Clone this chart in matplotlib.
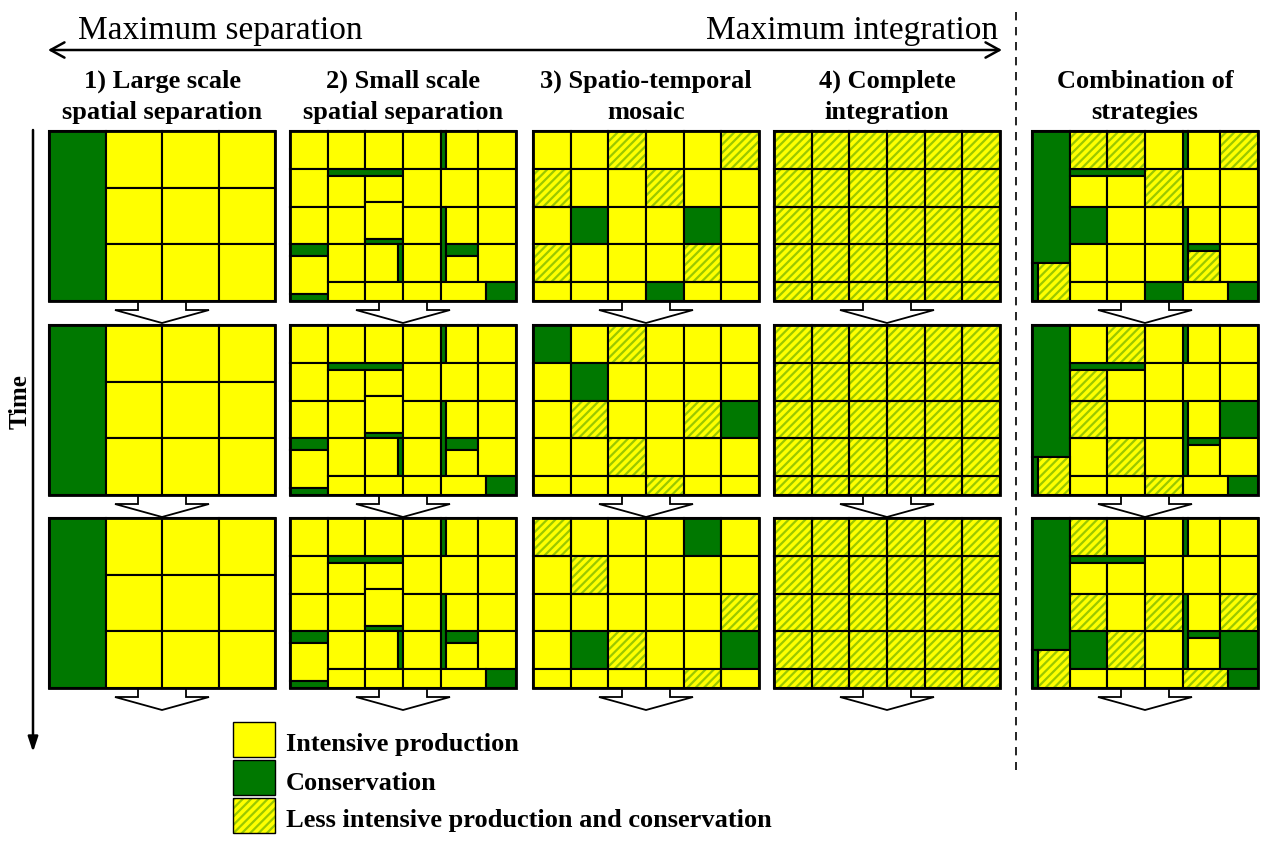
import matplotlib
matplotlib.use('Agg')
import matplotlib.pyplot as plt
from matplotlib.patches import Rectangle, Polygon

# ---------------- data ----------------
# Y = intensive production, G = conservation, H = less intensive production and conservation
column_titles = ["1) Large scale\nspatial separation",
                 "2) Small scale\nspatial separation",
                 "3) Spatio-temporal\nmosaic",
                 "4) Complete\nintegration",
                 "Combination of\nstrategies"]
axis_left_label = "Maximum separation"
axis_right_label = "Maximum integration"
time_label = "Time"
legend_labels = ["Intensive production", "Conservation",
                 "Less intensive production and conservation"]
legend_kinds = ["Y", "G", "H"]

# Strategy 1: one conservation block + 3x3 production fields (same at every time step)
s1_blocks = [(0, 0, 1.5, 4.5, "G")] + [(1.5 + 1.5 * i, 1.5 * j, 1.5, 1.5, "Y")
                                       for i in range(3) for j in range(3)]

# Strategy 2: small-scale map (same at every time step)
s2_blocks = [
    (0, 0, 1, 1, "Y"), (0, 1, 1, 1, "Y"), (0, 2, 1, 1, "Y"),
    (0, 3, 1, 0.3, "G"), (0, 3.3, 1, 1.02, "Y"), (0, 4.32, 1, 0.18, "G"),
    (1, 0, 1, 1, "Y"), (1, 1, 2, 0.19, "G"), (1, 1.19, 1, 0.81, "Y"),
    (1, 2, 1, 1, "Y"), (1, 3, 1, 1, "Y"), (1, 4, 1, 0.5, "Y"),
    (2, 0, 1, 1, "Y"), (2, 1.19, 1, 0.68, "Y"), (2, 1.87, 1, 1.0, "Y"),
    (2, 2.87, 1, 0.13, "G"), (2, 3, 0.87, 1, "Y"), (2.87, 3, 0.13, 1, "G"),
    (2, 4, 1, 0.5, "Y"),
    (3, 0, 1, 1, "Y"), (3, 1, 1, 1, "Y"), (3, 2, 1, 1, "Y"), (3, 3, 1, 1, "Y"),
    (3, 4, 1, 0.5, "Y"),
    (4, 0, 0.15, 1, "G"), (4.15, 0, 0.85, 1, "Y"), (4, 1, 1, 1, "Y"),
    (4, 2, 0.15, 2, "G"), (4.15, 2, 0.85, 1, "Y"), (4.15, 3, 0.85, 0.3, "G"),
    (4.15, 3.3, 0.85, 0.7, "Y"),
    (5, 0, 1, 1, "Y"), (5, 1, 1, 1, "Y"), (5, 2, 1, 1, "Y"), (5, 3, 1, 1, "Y"),
    (4, 4, 1.2, 0.5, "Y"), (5.2, 4, 0.8, 0.5, "G"),
]

# Strategy 3: spatio-temporal mosaic, 4 full rows + half row, per time step
s3_states = [
    ["YYHYYH", "HYYHYY", "YGYYGY", "HYYYHY", "YYYGYY"],
    ["GYHYYY", "YGYYYY", "YHYYHG", "YYHYYY", "YYYHYY"],
    ["HYYYGY", "YHYYYY", "YYYYYH", "YGHYYG", "YYYYHY"],
]

# Strategy 4: complete integration
s4_states = [["HHHHHH"] * 5] * 3

# Combination: fixed conservation features + variable fields
s5_fixed = [(0, 0, 1, 3.5, "G"), (0, 3.5, 0.15, 1, "G"), (1, 1, 2, 0.19, "G"),
            (4, 0, 0.15, 1, "G"), (4, 2, 0.15, 2, "G"), (4.15, 3, 0.85, 0.18, "G")]
s5_slots = [
    (1, 0, 1, 1), (2, 0, 1, 1), (3, 0, 1, 1), (4.15, 0, 0.85, 1), (5, 0, 1, 1),
    (1, 1.19, 1, 0.81), (2, 1.19, 1, 0.81), (3, 1, 1, 1), (4, 1, 1, 1), (5, 1, 1, 1),
    (1, 2, 1, 1), (2, 2, 1, 1), (3, 2, 1, 1), (4.15, 2, 0.85, 1), (5, 2, 1, 1),
    (1, 3, 1, 1), (2, 3, 1, 1), (3, 3, 1, 1), (4.15, 3.18, 0.85, 0.82), (5, 3, 1, 1),
    (1, 4, 1, 0.5), (2, 4, 1, 0.5), (3, 4, 1, 0.5), (4, 4, 1.2, 0.5), (5.2, 4, 0.8, 0.5),
    (0.15, 3.5, 0.85, 1),
]
s5_states = [
    "HHYYH" + "YYHYY" + "GYYYY" + "YYYHY" + "YYGYG" + "H",
    "YHYYY" + "HYYYY" + "HYYYG" + "YHYYY" + "YYHYG" + "H",
    "HYYYY" + "YYYYY" + "HYHYH" + "GHYYG" + "YYYHG" + "H",
]

# ---------------- style ----------------
YELLOW = '#FFFF00'
GREEN = '#007800'
STRIPE = '#9BC800'
SERIF = ['Liberation Serif', 'DejaVu Serif']
plt.rcParams['hatch.linewidth'] = 1.6

panel_x = [49, 290, 533, 774, 1032]
panel_y = [131, 325, 518]
PW, PH = 226, 170

fig = plt.figure(figsize=(12.61, 8.41), dpi=100)
ax = fig.add_axes([0, 0, 1, 1])
ax.set_xlim(0, 1261)
ax.set_ylim(841, 0)
ax.axis('off')


def draw_box(x, y, w, h, kind, lw=1.5):
    if kind == "H":
        ax.add_patch(Rectangle((x, y), w, h, facecolor=YELLOW, edgecolor=STRIPE,
                               hatch='////', lw=0, zorder=2))
        ax.add_patch(Rectangle((x, y), w, h, fill=False, edgecolor='black',
                               lw=lw, zorder=3))
    else:
        ax.add_patch(Rectangle((x, y), w, h, facecolor=YELLOW if kind == "Y" else GREEN,
                               edgecolor='black', lw=lw, zorder=2))


def draw_panel(x0, y0, blocks):
    cw, ch = PW / 6.0, PH / 4.5
    for (gx, gy, gw, gh, kind) in blocks:
        draw_box(x0 + gx * cw, y0 + gy * ch, gw * cw, gh * ch, kind)
    ax.add_patch(Rectangle((x0, y0), PW, PH, fill=False, edgecolor='black', lw=2, zorder=4))


def grid_blocks(rows):
    out = []
    for r, row in enumerate(rows):
        h = 1 if r < 4 else 0.5
        for c, k in enumerate(row):
            out.append((c, r, 1, h, k))
    return out


def draw_down_arrow(cx, ytop):
    sw, sh, hw, hh = 24, 9, 47, 13
    pts = [(cx - sw, ytop), (cx + sw, ytop), (cx + sw, ytop + sh), (cx + hw, ytop + sh),
           (cx, ytop + sh + hh), (cx - hw, ytop + sh), (cx - sw, ytop + sh)]
    ax.add_patch(Polygon(pts, closed=True, facecolor='white', edgecolor='black',
                         lw=1.3, zorder=1))


for t in range(3):
    y0 = panel_y[t]
    panels = [s1_blocks, s2_blocks, grid_blocks(s3_states[t]), grid_blocks(s4_states[t]),
              s5_fixed + [s + (k,) for s, k in zip(s5_slots, s5_states[t])]]
    for i, blocks in enumerate(panels):
        draw_panel(panel_x[i], y0, blocks)
        draw_down_arrow(panel_x[i] + PW / 2, y0 + PH)

# column titles
for i, title in enumerate(column_titles):
    ax.text(panel_x[i] + PW / 2, 97, title, ha='center', va='center', fontsize=19,
            fontweight='bold', family=SERIF, linespacing=1.42)

# top axis
ax.annotate('', xy=(48, 50), xytext=(1002, 50),
            arrowprops=dict(arrowstyle='<->,head_length=1.0,head_width=0.55', lw=1.8,
                            color='black', shrinkA=0, shrinkB=0))
ax.text(78, 31, axis_left_label, ha='left', va='center', fontsize=24, family=SERIF)
ax.text(998, 31, axis_right_label, ha='right', va='center', fontsize=24, family=SERIF)

# dashed separator
ax.plot([1016, 1016], [12, 770], color='black', lw=1.2, ls=(0, (5, 4)))

# time axis
ax.annotate('', xy=(33, 752), xytext=(33, 130),
            arrowprops=dict(arrowstyle='-|>,head_length=0.9,head_width=0.3', lw=1.8,
                            color='black', shrinkA=0, shrinkB=0))
ax.text(20, 402, time_label, rotation=90, ha='center', va='center', fontsize=18,
        fontweight='bold', family=SERIF)

# legend
leg_y = [722, 760, 798]
for k, lab, ly in zip(legend_kinds, legend_labels, leg_y):
    draw_box(233, ly, 42, 35, k, lw=1.0)
    ax.text(286, ly + 23, lab, ha='left', va='center', fontsize=19, fontweight='bold',
            family=SERIF)

fig.savefig('out.png', dpi=100)
